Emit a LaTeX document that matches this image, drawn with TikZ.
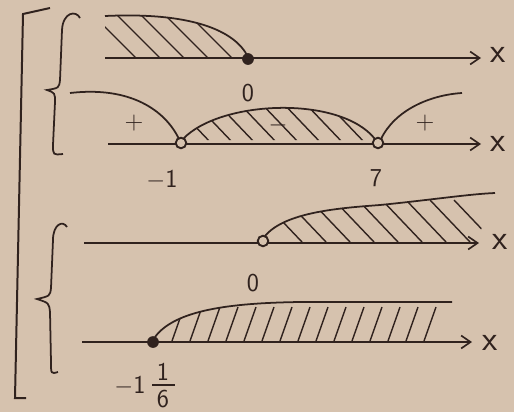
\documentclass[tikz,border=0pt]{standalone}
\usetikzlibrary{arrows.meta}
\definecolor{paper}{RGB}{214,194,174}
\definecolor{ink}{RGB}{48,34,30}
\tikzset{
  axis/.style={ink,line width=1.6pt,-{Straight Barb[length=8pt,width=11pt,line width=1.4pt]}},
  curve/.style={ink,line width=1.5pt},
  hatch/.style={ink,line width=1.2pt},
  lbl/.style={ink,font=\sffamily\fontsize{22}{24}\selectfont},
  xlbl/.style={ink,font=\sffamily\fontsize{30}{32}\selectfont},
  opendot/.style={circle,draw=ink,fill=paper,line width=1.6pt,inner sep=0pt,minimum size=9pt},
  fulldot/.style={circle,fill=ink,inner sep=0pt,minimum size=10pt}
}
\begin{document}
\begin{tikzpicture}[x=0.03cm,y=-0.03cm]
  \fill[paper] (0,0) rectangle (514,412);
  \useasboundingbox (0,0) rectangle (514,412);
  % outer bracket and braces
  \draw[curve,line width=1.7pt] (50,8) -- (23,14) -- (15,398) -- (26,398);
  \draw[curve] (80,18) .. controls (76,10) and (63,12) .. (62,30) -- (60,80)
    .. controls (59,88) .. (47,90) .. controls (55,93) .. (55,102) -- (53,145)
    .. controls (53,155) .. (63,154);
  \draw[curve] (67,227) .. controls (63,220) and (53,224) .. (53,240) -- (51,288)
    .. controls (50,296) .. (37,299) .. controls (49,303) .. (50,312) -- (51,362)
    .. controls (51,374) .. (58,372);
  % first system
  \begin{scope}
    \clip (105,16) .. controls (190,12) and (235,30) .. (248,57) -- (105,57) -- cycle;
    \foreach \x in {92,116,...,236}
      \draw[hatch] (\x,14) -- ++(44,44);
  \end{scope}
  \draw[curve] (105,16) .. controls (190,12) and (235,30) .. (248,57);
  \draw[axis] (105,58) -- (481,58);
  \node[fulldot] (z1) at (248,59) {};
  \node[lbl] at (248,93) {0};
  \node[xlbl] at (498,55) {x};
  % second
  \begin{scope}
    \clip (182,140) .. controls (220,100) and (340,95) .. (376,140) -- cycle;
    \foreach \x in {170,192,...,380}
      \draw[hatch] (\x,100) -- ++(42,44);
  \end{scope}
  \draw[curve] (70,93) .. controls (130,86) and (165,110) .. (179,139);
  \draw[curve] (183,139) .. controls (220,100) and (340,95) .. (375,139);
  \draw[curve] (381,139) .. controls (395,110) and (430,95) .. (462,93);
  \draw[axis] (108,144) -- (481,144);
  \node[opendot] (m1) at (181,143) {};
  \node[opendot] (s1) at (378,143) {};
  \node[lbl] at (134,123) {+};
  \node[lbl] at (278,125) {$-$};
  \node[lbl] at (425,123) {+};
  \node[lbl] at (162,180) {$-$1};
  \node[lbl] at (376,178) {7};
  \node[xlbl] at (498,144) {x};
  % third
  \begin{scope}
    \clip (265,236) .. controls (285,212) and (340,208) .. (380,205)
      .. controls (430,200) and (470,194) .. (495,193) -- (476,243) -- (265,243) -- cycle;
    \foreach \x in {262,286,...,470}
      \draw[hatch] (\x,200) -- ++(40,42);
  \end{scope}
  \draw[curve] (265,236) .. controls (285,212) and (340,208) .. (380,205)
    .. controls (430,200) and (470,194) .. (495,193);
  \draw[axis] (84,243) -- (479,243);
  \node[opendot] (z2) at (263,241) {};
  \node[lbl] at (253,283) {0};
  \node[xlbl] at (500,242) {x};
  % fourth
  \begin{scope}
    \clip (155,337) .. controls (175,310) and (230,303) .. (300,302) -- (440,302)
      -- (440,341) -- (155,341) -- cycle;
    \foreach \x in {172,190,...,440}
      \draw[hatch] (\x,341) -- ++(12,-34);
  \end{scope}
  \draw[curve] (155,337) .. controls (175,310) and (230,303) .. (300,302) -- (452,302);
  \draw[axis] (82,342) -- (472,342);
  \node[fulldot] (m2) at (153,342) {};
  \node[xlbl] at (490,343) {x};
  \node[lbl] at (130,386) {$-$1};
  \node[lbl] at (163,372) {1};
  \draw[curve,line width=1.3pt] (152,385) -- (175,385);
  \node[lbl] at (163,399) {6};
\end{tikzpicture}
\end{document}
